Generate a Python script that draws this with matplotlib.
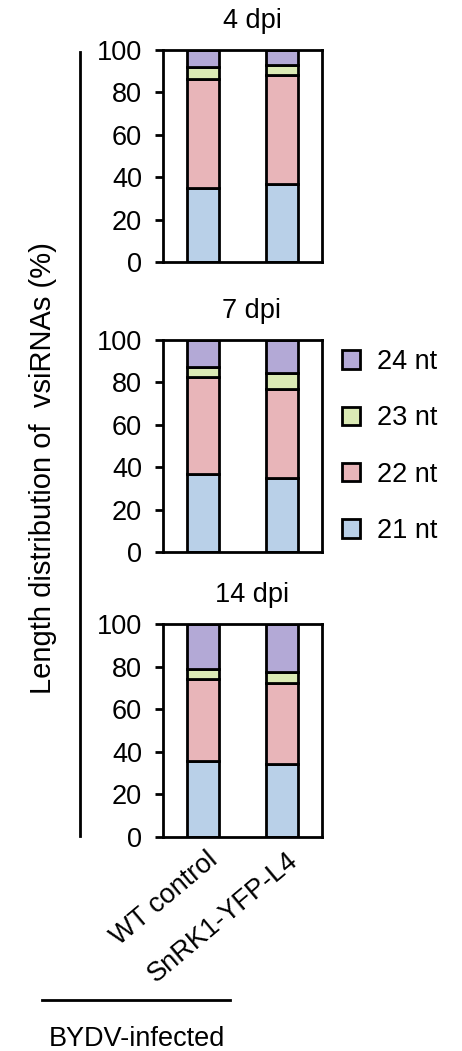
import matplotlib
matplotlib.use("Agg")
import matplotlib.pyplot as plt
import matplotlib.transforms as mtransforms
from matplotlib.patches import Patch
from matplotlib.lines import Line2D
import numpy as np

plt.rcParams['font.family'] = ['Liberation Sans', 'DejaVu Sans']

# Data: percentage of vsiRNAs by length, per time point
groups = ["WT control", "SnRK1-YFP-L4"]
panels = ["4 dpi", "7 dpi", "14 dpi"]
lengths = ["21 nt", "22 nt", "23 nt", "24 nt"]

nt21 = {"4 dpi": [35, 37], "7 dpi": [37, 35], "14 dpi": [35.5, 34.5]}
nt22 = {"4 dpi": [51.5, 51], "7 dpi": [45.5, 42], "14 dpi": [38.5, 38]}
nt23 = {"4 dpi": [5.5, 5], "7 dpi": [5, 7.5], "14 dpi": [5, 5]}
nt24 = {"4 dpi": [8, 7], "7 dpi": [12.5, 15.5], "14 dpi": [21, 22.5]}

colors = {"21 nt": "#b9d0e8", "22 nt": "#e8b5b9", "23 nt": "#dbeab5", "24 nt": "#b3a9d6"}

W, H = 462, 1051
fig = plt.figure(figsize=(W / 100, H / 100), dpi=100)

FS = 19.5
LW = 2.0


def px_axes(left, top, right, bottom):
    return fig.add_axes([left / W, 1 - bottom / H, (right - left) / W, (bottom - top) / H])


tops = [50, 340, 624]
bottoms = [262, 552, 837]
x = np.arange(len(groups))

for i, panel in enumerate(panels):
    ax = px_axes(163, tops[i], 322, bottoms[i])
    series = [nt21[panel], nt22[panel], nt23[panel], nt24[panel]]
    base = np.zeros(len(groups))
    for name, vals in zip(lengths, series):
        vals = np.array(vals, dtype=float)
        ax.bar(x, vals, bottom=base, width=0.4, color=colors[name],
               edgecolor="black", linewidth=LW, zorder=2)
        base += vals
    ax.set_xlim(-0.5, 1.5)
    ax.set_ylim(0, 100)
    ax.set_yticks([0, 20, 40, 60, 80, 100])
    ax.tick_params(axis="y", direction="out", length=6, width=LW, pad=9, labelsize=FS)
    for s in ax.spines.values():
        s.set_linewidth(LW)
    ax.set_xticks(x)
    if i < 2:
        ax.tick_params(axis="x", length=0, labelbottom=False)
    else:
        ax.tick_params(axis="x", length=0, pad=0)
        ax.set_xticklabels(groups, rotation=40, ha="right", va="center",
                           rotation_mode="anchor", fontsize=FS)
        off = mtransforms.ScaledTranslation(12 / 100, -20 / 100, fig.dpi_scale_trans)
        for lab in ax.get_xticklabels():
            lab.set_transform(lab.get_transform() + off)
    # panel title
    fig.text(252 / W, 1 - (tops[i] - 22) / H, panel, ha="center", va="baseline", fontsize=FS)

# shared y label and bracket line
fig.text(43 / W, 1 - 468 / H, "Length distribution of  vsiRNAs (%)", rotation=90,
         ha="center", va="center", fontsize=21)
fig.add_artist(Line2D([80 / W, 80 / W], [1 - 52 / H, 1 - 836 / H], color="black", linewidth=LW))

# group bracket under the x labels
fig.add_artist(Line2D([42 / W, 230 / W], [1 - 1000 / H, 1 - 1000 / H], color="black", linewidth=LW))
fig.text(137 / W, 1 - 1046 / H, "BYDV-infected", ha="center", va="baseline", fontsize=FS)

# legend
handles = [Patch(facecolor=colors[n], edgecolor="black", linewidth=LW, label=n)
           for n in reversed(lengths)]
fig.legend(handles=handles, loc="upper left", bbox_to_anchor=(342 / W, 1 - 349 / H),
           frameon=False, fontsize=FS, handlelength=0.68, handleheight=0.68,
           handletextpad=0.6, labelspacing=1.12, borderpad=0, borderaxespad=0)

fig.savefig("out.png", dpi=100)
